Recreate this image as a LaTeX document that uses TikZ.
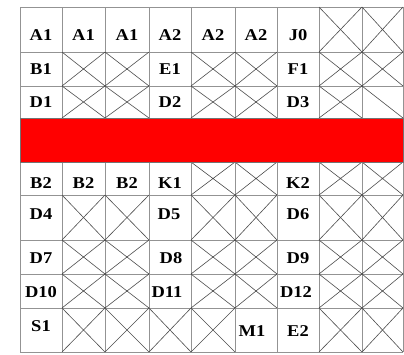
\documentclass[tikz,border=0pt]{standalone}
\usepackage{fontspec}
\usepackage{graphicx}
\setmainfont{Liberation Serif}
\newcommand{\widelab}[1]{\scalebox{1.12}[1]{#1}}

\begin{document}
\begin{tikzpicture}[
    x=1pt, y=-1pt,
    grid/.style={draw=gray!85, line width=0.8pt},
    xline/.style={draw=black!70, line width=0.6pt},
    band/.style={fill=red, draw=black!55, line width=0.6pt},
    lab/.style={inner sep=0pt, font=\fontsize{16.5}{16.5}\selectfont\bfseries}
]
\useasboundingbox (0,0) rectangle (404,354);

% column and row lines
\foreach \x [count=\i from 0] in {20,62,105,149,191,235,277,319,362,403}
    \coordinate (c\i) at (\x,0);
\foreach \y [count=\j from 0] in {7,52,86,118,162,195,240,274,308,352}
    \coordinate (r\j) at (0,\y);

\foreach \i in {0,...,9}
    \draw[grid] (c\i|-r0) -- (c\i|-r9);
\foreach \j in {0,...,9}
    \draw[grid] (c0|-r\j) -- (c9|-r\j);

% crossed cells (column/row)
\foreach \i/\j in {8/1,9/1,
                   2/2,3/2,5/2,6/2,8/2,9/2,
                   2/3,3/3,5/3,6/3,8/3,
                   5/5,6/5,8/5,9/5,
                   2/6,3/6,5/6,6/6,8/6,9/6,
                   2/7,3/7,5/7,6/7,8/7,9/7,
                   2/8,3/8,5/8,6/8,8/8,9/8,
                   2/9,3/9,4/9,5/9,8/9,9/9}{
    \pgfmathtruncatemacro\ip{\i-1}
    \pgfmathtruncatemacro\jp{\j-1}
    \draw[xline] (c\ip|-r\jp) -- (c\i|-r\j) (c\ip|-r\j) -- (c\i|-r\jp);
}
\draw[xline] (c8|-r2) -- (c9|-r3);

% red band
\draw[band] (c0|-r3) rectangle (c9|-r4);

% labels
\foreach \t/\x/\y [count=\n] in {A1/41/35, A1/83.5/35, A1/127/35, A2/170/35, A2/213/35, A2/256/35, J0/298/35,
                                  B1/41/69, E1/170/69, F1/298/69,
                                  D1/41/102.5, D2/170/102.5, D3/298/102.5,
                                  B2/41/183, B2/83.5/183, B2/127/183, K1/170/183, K2/298/183,
                                  D4/41/214, D5/169/214, D6/298/214,
                                  D7/41/258.5, D8/171/258.5, D9/298/258.5,
                                  D10/41/292.5, D11/167/292.5, D12/296/292.5,
                                  S1/41/326.5, M1/252/331.5, E2/298/331.5}
    \node[lab] (l\n) at (\x,\y) {\widelab{\t}};
\end{tikzpicture}
\end{document}
